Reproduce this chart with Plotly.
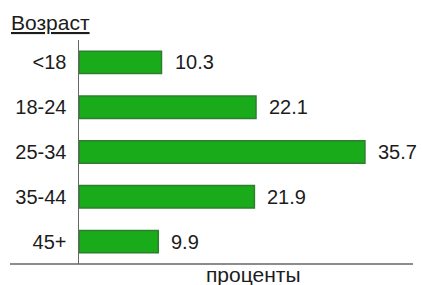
import plotly.graph_objects as go

categories = ["<18", "18-24", "25-34", "35-44", "45+"]
values = [10.3, 22.1, 35.7, 21.9, 9.9]
title_text = "Возраст"
x_title = "проценты"

FONT = "Liberation Sans, Arial, sans-serif"
W, H = 422, 285
L, R, T, B = 79, 9, 40, 21

fig = go.Figure()
fig.add_trace(go.Bar(
    y=categories, x=values, orientation="h",
    marker=dict(color="#1aab1a", line=dict(color="#2f7d2f", width=1.5)),
    hoverinfo="skip",
))

for c, v in zip(categories, values):
    fig.add_annotation(x=v, y=c, xref="x", yref="y", text=f"{v:.1f}",
                       showarrow=False, xanchor="left", xshift=11,
                       font=dict(family=FONT, size=20, color="#1c1c1c"))

pw = W - L - R
ph = H - T - B
fig.add_annotation(x=(9 - L) / pw, y=1 + (T - 22) / ph, xref="paper", yref="paper",
                   text=f"<u>{title_text}</u>", showarrow=False, xanchor="left", yanchor="middle",
                   font=dict(family=FONT, size=21, color="#1c1c1c"))
fig.add_annotation(x=(253 - L) / pw, y=-(274 - (H - B)) / ph, xref="paper", yref="paper",
                   text=x_title, showarrow=False, xanchor="center", yanchor="middle",
                   font=dict(family=FONT, size=21, color="#1c1c1c"))

fig.add_shape(type="line", xref="paper", yref="paper", x0=(10 - L) / pw, x1=1, y0=0, y1=0,
              line=dict(color="#666", width=1.5))

fig.update_layout(
    width=W, height=H, margin=dict(l=L, r=R, t=T, b=B),
    paper_bgcolor="white", plot_bgcolor="white",
    showlegend=False, bargap=0.5,
    xaxis=dict(range=[0, 41.7], showgrid=False, zeroline=False, showticklabels=False,
               showline=False, fixedrange=True),
    yaxis=dict(categoryorder="array", categoryarray=categories, autorange="reversed",
               showgrid=False, zeroline=False, showline=True, linecolor="#666", linewidth=1.5,
               ticks="", ticklabelstandoff=7, fixedrange=True,
               tickfont=dict(family=FONT, size=20, color="#1c1c1c")),
)

fig.write_html("out.html", config={"displayModeBar": False, "staticPlot": True},
               post_script="document.body.style.margin='0';")
